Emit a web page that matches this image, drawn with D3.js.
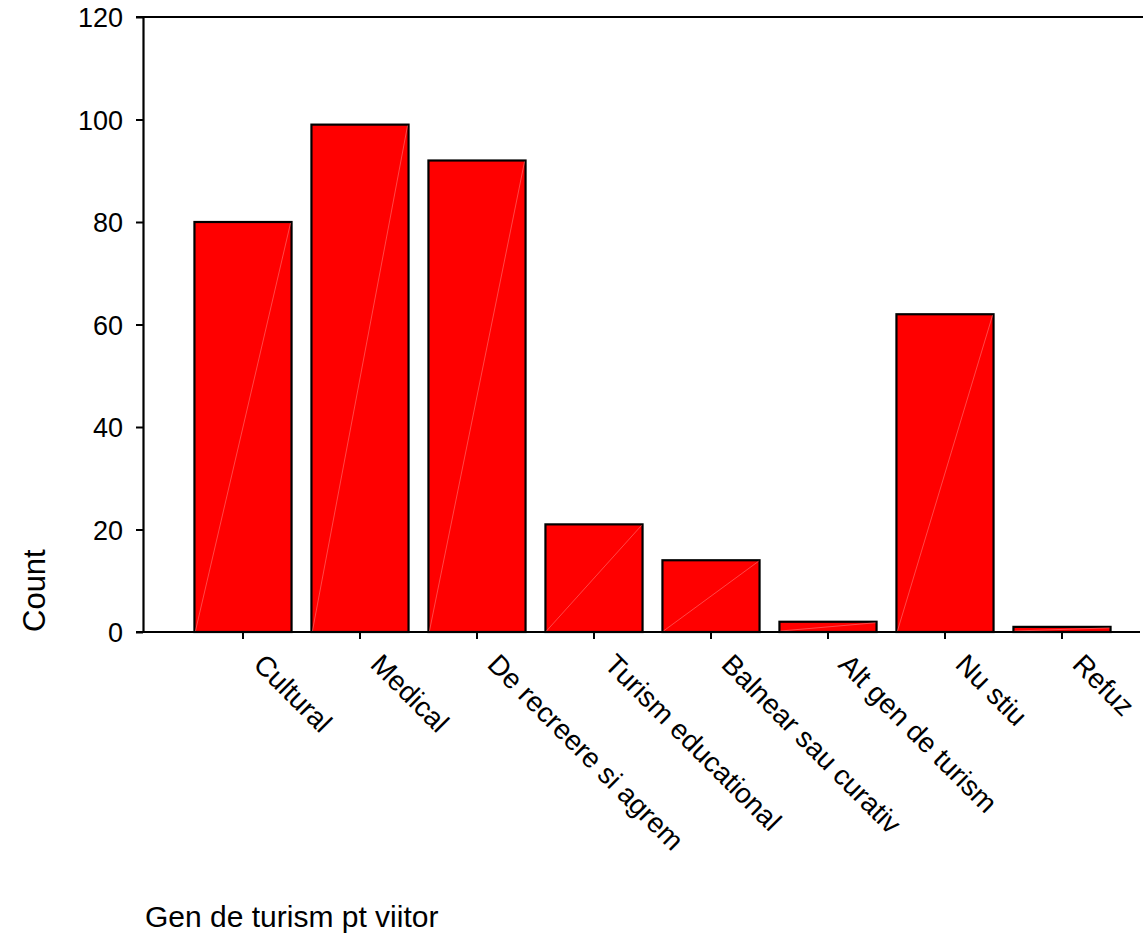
<!DOCTYPE html>
<html>
<head>
<meta charset="utf-8">
<title>Gen de turism pt viitor</title>
<script src="https://cdn.jsdelivr.net/npm/d3@7"></script>
<style>
  body { margin: 0; background: #fff; }
  text { font-family: "Liberation Sans", Arial, sans-serif; fill: #000; }
</style>
</head>
<body>
<script>
// Categories and counts
var categories = ["Cultural", "Medical", "De recreere si agrem", "Turism educational",
                  "Balnear sau curativ", "Alt gen de turism", "Nu stiu", "Refuz"];
var counts = [80, 99, 92, 21, 14, 2, 62, 1];
var yTicks = [0, 20, 40, 60, 80, 100, 120];

var data = categories.map(function(c, i) { return {cat: c, value: counts[i]}; });

var width = 1143, height = 934;
var top0 = 17, bottom0 = 632, left0 = 143;

var svg = d3.select("body").append("svg")
    .attr("width", width)
    .attr("height", height);

// Scales
var xScale = d3.scaleBand()
    .domain(categories)
    .range([184.5, 1120.5])
    .paddingInner(0.17)
    .paddingOuter(0.085);

var yScale = d3.scaleLinear()
    .domain([0, 120])
    .range([bottom0, top0]);

// Bars
var bars = svg.selectAll("g.bar")
    .data(data)
    .enter()
    .append("g")
    .attr("class", "bar");

bars.append("rect")
    .attr("x", function(d) { return xScale(d.cat); })
    .attr("y", function(d) { return yScale(d.value); })
    .attr("width", xScale.bandwidth())
    .attr("height", function(d) { return yScale(0) - yScale(d.value); })
    .attr("fill", "#ff0000")
    .attr("stroke", "#000")
    .attr("stroke-width", 2.2);

// faint diagonal seam inside each bar
bars.append("line")
    .attr("x1", function(d) { return xScale(d.cat) + 1; })
    .attr("y1", yScale(0) - 1)
    .attr("x2", function(d) { return xScale(d.cat) + xScale.bandwidth() - 1; })
    .attr("y2", function(d) { return yScale(d.value) + 1; })
    .attr("stroke", "#ff8080")
    .attr("stroke-width", 0.7)
    .attr("opacity", 0.8);

// Y axis
var yAxis = d3.axisLeft(yScale)
    .tickValues(yTicks)
    .tickSize(7)
    .tickPadding(13)
    .tickSizeOuter(0);

var gy = svg.append("g")
    .attr("transform", "translate(" + left0 + ",0)")
    .call(yAxis);
gy.select(".domain").attr("stroke-width", 2.2);
gy.selectAll(".tick line").attr("stroke-width", 2);
gy.selectAll(".tick text")
    .style("font-size", "27px")
    .attr("dy", "0.36em");

// top frame line
svg.append("line")
    .attr("x1", left0 - 7).attr("x2", width)
    .attr("y1", top0).attr("y2", top0)
    .attr("stroke", "#000").attr("stroke-width", 2.2);

// X axis
var xAxis = d3.axisBottom(xScale)
    .tickSize(7)
    .tickSizeOuter(0)
    .tickFormat("");

var gx = svg.append("g")
    .attr("transform", "translate(0," + bottom0 + ")")
    .call(xAxis);
gx.select(".domain").remove();
gx.selectAll(".tick line").attr("stroke-width", 2);

svg.append("line")
    .attr("x1", left0 - 7).attr("x2", 1140)
    .attr("y1", bottom0).attr("y2", bottom0)
    .attr("stroke", "#000").attr("stroke-width", 2.2);

// Rotated category labels
svg.selectAll("text.cat")
    .data(categories)
    .enter()
    .append("text")
    .attr("class", "cat")
    .attr("transform", function(d) {
      return "translate(" + (xScale(d) + xScale.bandwidth() / 2 + 9) + ",666) rotate(45)";
    })
    .style("font-size", "28px")
    .text(function(d) { return d; });

// Axis titles
svg.append("text")
    .attr("transform", "translate(45,632) rotate(-90)")
    .style("font-size", "31px")
    .text("Count");

svg.append("text")
    .attr("x", 145)
    .attr("y", 927)
    .style("font-size", "30px")
    .text("Gen de turism pt viitor");
</script>
</body>
</html>
